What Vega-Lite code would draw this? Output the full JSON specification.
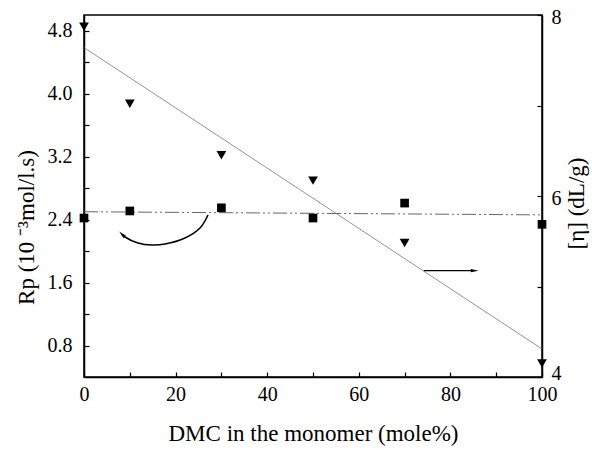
{
  "$schema": "https://vega.github.io/schema/vega-lite/v6.json",
  "width": 458,
  "height": 362,
  "autosize": "none",
  "padding": {"left": 84, "top": 15, "right": 53, "bottom": 72},
  "background": "white",
  "config": {
    "view": {"stroke": "black", "strokeWidth": 1.5},
    "font": "Liberation Serif, Times New Roman, serif",
    "axis": {
      "grid": false,
      "labelFlush": false,
      "labelOverlap": false,
      "domainColor": "black",
      "domainWidth": 1.5,
      "tickColor": "black",
      "tickWidth": 1.2,
      "tickSize": -5,
      "labelFont": "Liberation Serif, Times New Roman, serif",
      "labelFontSize": 20,
      "labelColor": "black",
      "titleFont": "Liberation Serif, Times New Roman, serif",
      "titleFontSize": 23,
      "titleFontWeight": "normal",
      "titleColor": "black"
    }
  },
  "datasets": {
    "rp": [
      {"x": 0, "rp": 2.42},
      {"x": 10, "rp": 2.51},
      {"x": 30, "rp": 2.55},
      {"x": 50, "rp": 2.42},
      {"x": 70, "rp": 2.61},
      {"x": 100, "rp": 2.34}
    ],
    "eta": [
      {"x": 0, "eta": 7.87},
      {"x": 10, "eta": 7.02},
      {"x": 30, "eta": 6.45},
      {"x": 50, "eta": 6.17},
      {"x": 70, "eta": 5.48},
      {"x": 100, "eta": 4.15}
    ],
    "rpfit": [
      {"x": 0, "rp": 2.50},
      {"x": 100, "rp": 2.46}
    ],
    "etafit": [
      {"x": 0, "eta": 7.64},
      {"x": 100, "eta": 4.31}
    ],
    "curve": [
      {"i": 0, "x": 27.07, "rp": 2.459},
      {"i": 1, "x": 25.33, "rp": 2.293},
      {"i": 2, "x": 22.05, "rp": 2.166},
      {"i": 3, "x": 17.69, "rp": 2.090},
      {"i": 4, "x": 14.85, "rp": 2.077},
      {"i": 5, "x": 11.79, "rp": 2.103},
      {"i": 6, "x": 8.95, "rp": 2.179},
      {"i": 7, "x": 8.3, "rp": 2.215}
    ],
    "curvehead": [
      {"x": 8.3, "rp": 2.215}
    ],
    "straight": [
      {"x": 74.2, "eta": 5.175},
      {"x": 85.0, "eta": 5.175}
    ],
    "straighthead": [
      {"x": 85.3, "eta": 5.175}
    ]
  },
  "layer": [
    {
      "encoding": {
        "x": {
          "field": "x",
          "type": "quantitative",
          "scale": {"domain": [0, 100], "nice": false},
          "axis": {
            "values": [0, 10, 20, 30, 40, 50, 60, 70, 80, 90, 100],
            "labelExpr": "datum.value % 20 == 0 ? datum.label : ''",
            "labelPadding": 12,
            "title": "DMC in the monomer (mole%)",
            "titleY": 56,
            "titleBaseline": "middle"
          }
        },
        "y": {
          "field": "rp",
          "type": "quantitative",
          "scale": {"domain": [0.4, 5.0], "nice": false, "zero": false},
          "axis": {
            "orient": "left",
            "values": [0.8, 1.2, 1.6, 2.0, 2.4, 2.8, 3.2, 3.6, 4.0, 4.4, 4.8],
            "labelExpr": "(round(datum.value * 10) % 8 == 0) ? format(datum.value, '.1f') : ''",
            "labelPadding": 17,
            "title": "Rp (10 \u207b\u00b3mol/l.s)",
            "titleAngle": -90,
            "titleX": -58,
            "titleY": 212,
            "titleAlign": "center",
            "titleBaseline": "middle"
          }
        }
      },
      "layer": [
        {
          "data": {"name": "rpfit"},
          "mark": {"type": "line", "color": "#666666", "strokeWidth": 1, "strokeDash": [14, 3, 2, 3, 2, 3]}
        },
        {
          "data": {"name": "curve"},
          "mark": {"type": "line", "color": "black", "strokeWidth": 1.6, "interpolate": "catmull-rom"},
          "encoding": {"order": {"field": "i", "type": "quantitative"}}
        },
        {
          "data": {"name": "curvehead"},
          "mark": {"type": "point", "shape": "M -1 -0.45 L 1 0 L -1 0.45 Z", "filled": true, "color": "black", "opacity": 1, "size": 60, "angle": 225}
        },
        {
          "data": {"name": "rp"},
          "mark": {"type": "point", "shape": "square", "filled": true, "color": "black", "opacity": 1, "size": 75}
        }
      ]
    },
    {
      "encoding": {
        "x": {"field": "x", "type": "quantitative", "scale": {"domain": [0, 100], "nice": false}},
        "y": {
          "field": "eta",
          "type": "quantitative",
          "scale": {"domain": [4, 8], "nice": false, "zero": false},
          "axis": {
            "orient": "right",
            "values": [4, 5, 6, 7, 8],
            "labelExpr": "datum.value % 2 == 0 ? datum.label : ''",
            "labelPadding": 14,
            "labelOffset": {"condition": {"test": "datum.value == 4", "value": -4}, "value": 2},
            "title": "[\u03b7] (dL/g)",
            "titleAngle": -90,
            "titleX": 34,
            "titleY": 188,
            "titleAlign": "center",
            "titleBaseline": "middle"
          }
        }
      },
      "layer": [
        {
          "data": {"name": "etafit"},
          "mark": {"type": "line", "color": "#777777", "strokeWidth": 0.8}
        },
        {
          "data": {"name": "straight"},
          "mark": {"type": "line", "color": "black", "strokeWidth": 1.3}
        },
        {
          "data": {"name": "straighthead"},
          "mark": {"type": "point", "shape": "M -1 -0.4 L 1 0 L -1 0.4 Z", "filled": true, "color": "black", "opacity": 1, "size": 60}
        },
        {
          "data": {"name": "eta"},
          "mark": {"type": "point", "shape": "triangle-down", "filled": true, "color": "black", "opacity": 1, "size": 95}
        }
      ]
    }
  ],
  "resolve": {"scale": {"y": "independent"}}
}
